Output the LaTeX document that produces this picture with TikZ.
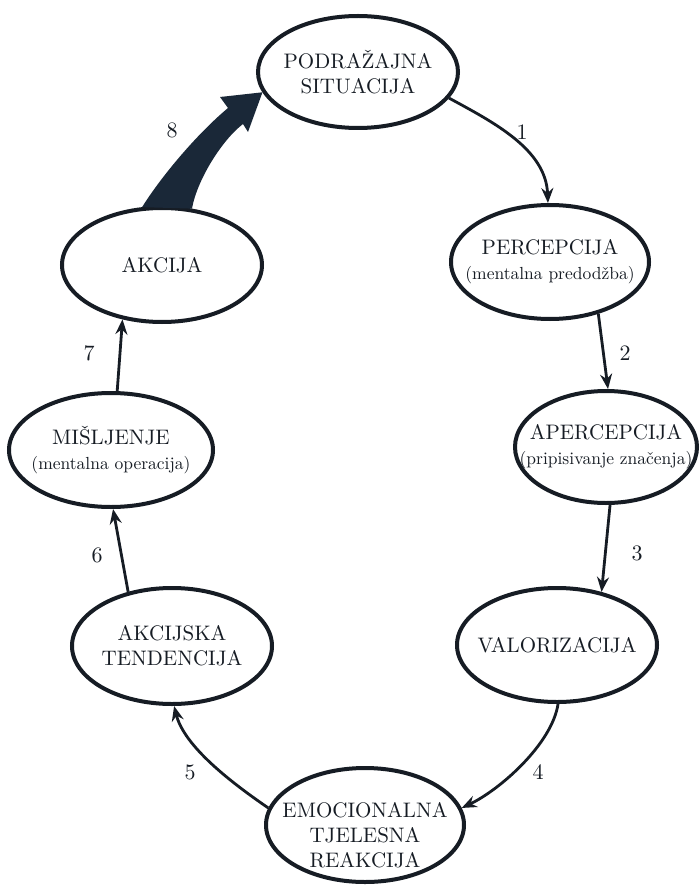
\documentclass[tikz,border=0pt]{standalone}
\usepackage{fontspec}
\setmainfont{lmroman10-regular.otf}
\usetikzlibrary{shapes.geometric,arrows.meta}
\definecolor{ink}{RGB}{22,28,36}
\definecolor{navy}{RGB}{26,40,56}
\newcommand\myCaps{\fontsize{21}{25}\selectfont}
\newcommand\mySub{\fontsize{17.5}{25}\selectfont}
\begin{document}
\begin{tikzpicture}[x=1pt,y=-1pt,
  stage/.style={ellipse, draw=ink, line width=4pt, fill=white, inner sep=0pt},
  txt/.style={align=center, font=\myCaps, text=ink, inner sep=0pt},
  arr/.style={draw=ink, line width=2.8pt, -{Stealth[length=15pt,width=12pt,inset=5pt]}},
  num/.style={font=\fontsize{22}{25}\selectfont, text=ink, inner sep=0pt}]
\useasboundingbox (0,0) rectangle (700,885);
\fill[white] (0,0) rectangle (700,885);

% stages
\node[stage, minimum width=200pt, minimum height=112pt,
      label={[txt]center:{PODRAŽAJNA\\SITUACIJA}}] (podr) at (358,72) {};
\node[stage, minimum width=198pt, minimum height=114pt,
      label={[txt]center:{PERCEPCIJA\\{\mySub (mentalna predodžba)}}}] (perc) at (550,262) {};
\node[stage, minimum width=182pt, minimum height=112pt,
      label={[txt]center:{APERCEPCIJA\\{\mySub (pripisivanje značenja)}}}] (aper) at (606,447) {};
\node[stage, minimum width=200pt, minimum height=114pt,
      label={[txt]center:{VALORIZACIJA}}] (valo) at (557,645) {};
\node[stage, minimum width=198pt, minimum height=114pt,
      label={[txt,yshift=-10pt]center:{EMOCIONALNA\\TJELESNA\\REAKCIJA}}] (emo) at (365,825) {};
\node[stage, minimum width=200pt, minimum height=116pt,
      label={[txt]center:{AKCIJSKA\\TENDENCIJA}}] (akt) at (172,646) {};
\node[stage, minimum width=204pt, minimum height=114pt,
      label={[txt]center:{MIŠLJENJE\\{\mySub (mentalna operacija)}}}] (mis) at (111,450) {};
\node[stage, minimum width=200pt, minimum height=114pt,
      label={[txt]center:{AKCIJA}}] (akc) at (162,265) {};

% connectors
\draw[arr] (podr.-16) .. controls +(44,24) and +(-2,-54) .. (perc.92);
\draw[arr] (perc.-47) -- (aper.88);
\draw[arr] (aper.-86) -- (valo.50);
\draw[arr] (valo.-89) .. controls +(-6,40) and +(38,-18) .. (emo.10);
\draw[arr] (emo.170) .. controls +(-38,-26) and +(10,40) .. (akt.-88);
\draw[arr] (akt.129) -- (mis.-88);
\draw[arr] (mis.84) -- (akc.-126);
\fill[navy] (akc.109) .. controls +(20,-32) and +(-30,25) .. (228,108)
  -- (220,97) -- (podr.192) -- (248,132) -- (243,124)
  .. controls +(-21,16) and +(5,-28.6) .. (akc.62) -- cycle;

% step numbers
\node[num] (n1) at (522,132) {1};
\node[num] (n2) at (625,353) {2};
\node[num] (n3) at (637,553) {3};
\node[num] (n4) at (538,772) {4};
\node[num] (n5) at (190,772) {5};
\node[num] (n6) at (97,555) {6};
\node[num] (n7) at (89,353) {7};
\node[num] (n8) at (172,130) {8};
\end{tikzpicture}
\end{document}
